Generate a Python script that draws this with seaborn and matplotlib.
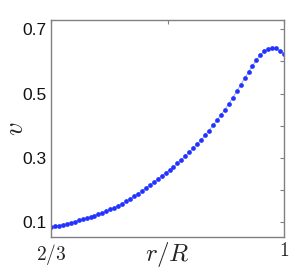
import numpy as np
import pandas as pd
import seaborn as sns
import matplotlib.pyplot as plt

# radius r/R, 60 evenly spaced samples from 2/3 to 1
r_start = 2 / 3
r_end = 1.0
n_pts = 60

v_vals = [0.085, 0.088, 0.090, 0.093, 0.096, 0.099, 0.102, 0.106, 0.109, 0.113,
          0.117, 0.121, 0.126, 0.130, 0.135, 0.140, 0.146, 0.152, 0.158, 0.165,
          0.173, 0.181, 0.189, 0.197, 0.206, 0.215, 0.224, 0.234, 0.244, 0.254,
          0.262, 0.272, 0.283, 0.294, 0.306, 0.318, 0.330, 0.343, 0.356, 0.370,
          0.385, 0.401, 0.417, 0.433, 0.450, 0.468, 0.487, 0.507, 0.527, 0.547,
          0.567, 0.586, 0.604, 0.620, 0.632, 0.639, 0.642, 0.640, 0.633, 0.624]

y_ticks = [0.1, 0.2, 0.3, 0.4, 0.5, 0.6, 0.7]
y_labels = ["0.1", "", "0.3", "", "0.5", "", "0.7"]
x_ticks = [2 / 3, 5 / 6, 1.0]
x_labels = ["$2/3$", "", "$1$"]

df = pd.DataFrame({"r": np.linspace(r_start, r_end, n_pts), "v": v_vals})

sns.set_style("white")
plt.rcParams["font.family"] = ["Liberation Sans", "DejaVu Sans"]
plt.rcParams["mathtext.fontset"] = "cm"

fig = plt.figure(figsize=(3.0, 2.68), dpi=100)
ax = fig.add_axes([0.17, 0.114, 0.777, 0.811])

blue = "#2233ff"
sns.lineplot(data=df, x="r", y="v", ax=ax, color="#8899ff", linewidth=0.6,
             marker="o", markersize=3.4, markerfacecolor=blue,
             markeredgecolor=blue, markeredgewidth=0)

ax.set_xlim(r_start, r_end)
ax.set_ylim(0.053, 0.728)
ax.set_yticks(y_ticks)
ax.set_yticklabels(y_labels, fontsize=12.5, color="#111111")
ax.set_xticks(x_ticks)
ax.set_xticklabels(x_labels, fontsize=14)

grey = "#808080"
for s in ax.spines.values():
    s.set_color(grey)
    s.set_linewidth(1.0)
ax.tick_params(direction="in", length=3, width=0.8, color=grey,
               top=True, right=True, pad=3)

ax.set_xlabel("$r/R$", fontsize=18)
ax.xaxis.set_label_coords(0.5, -0.01)
ax.set_ylabel("$v$", fontsize=19)
ax.yaxis.set_label_coords(-0.10, 0.5)

fig.savefig("out.png", dpi=100)
